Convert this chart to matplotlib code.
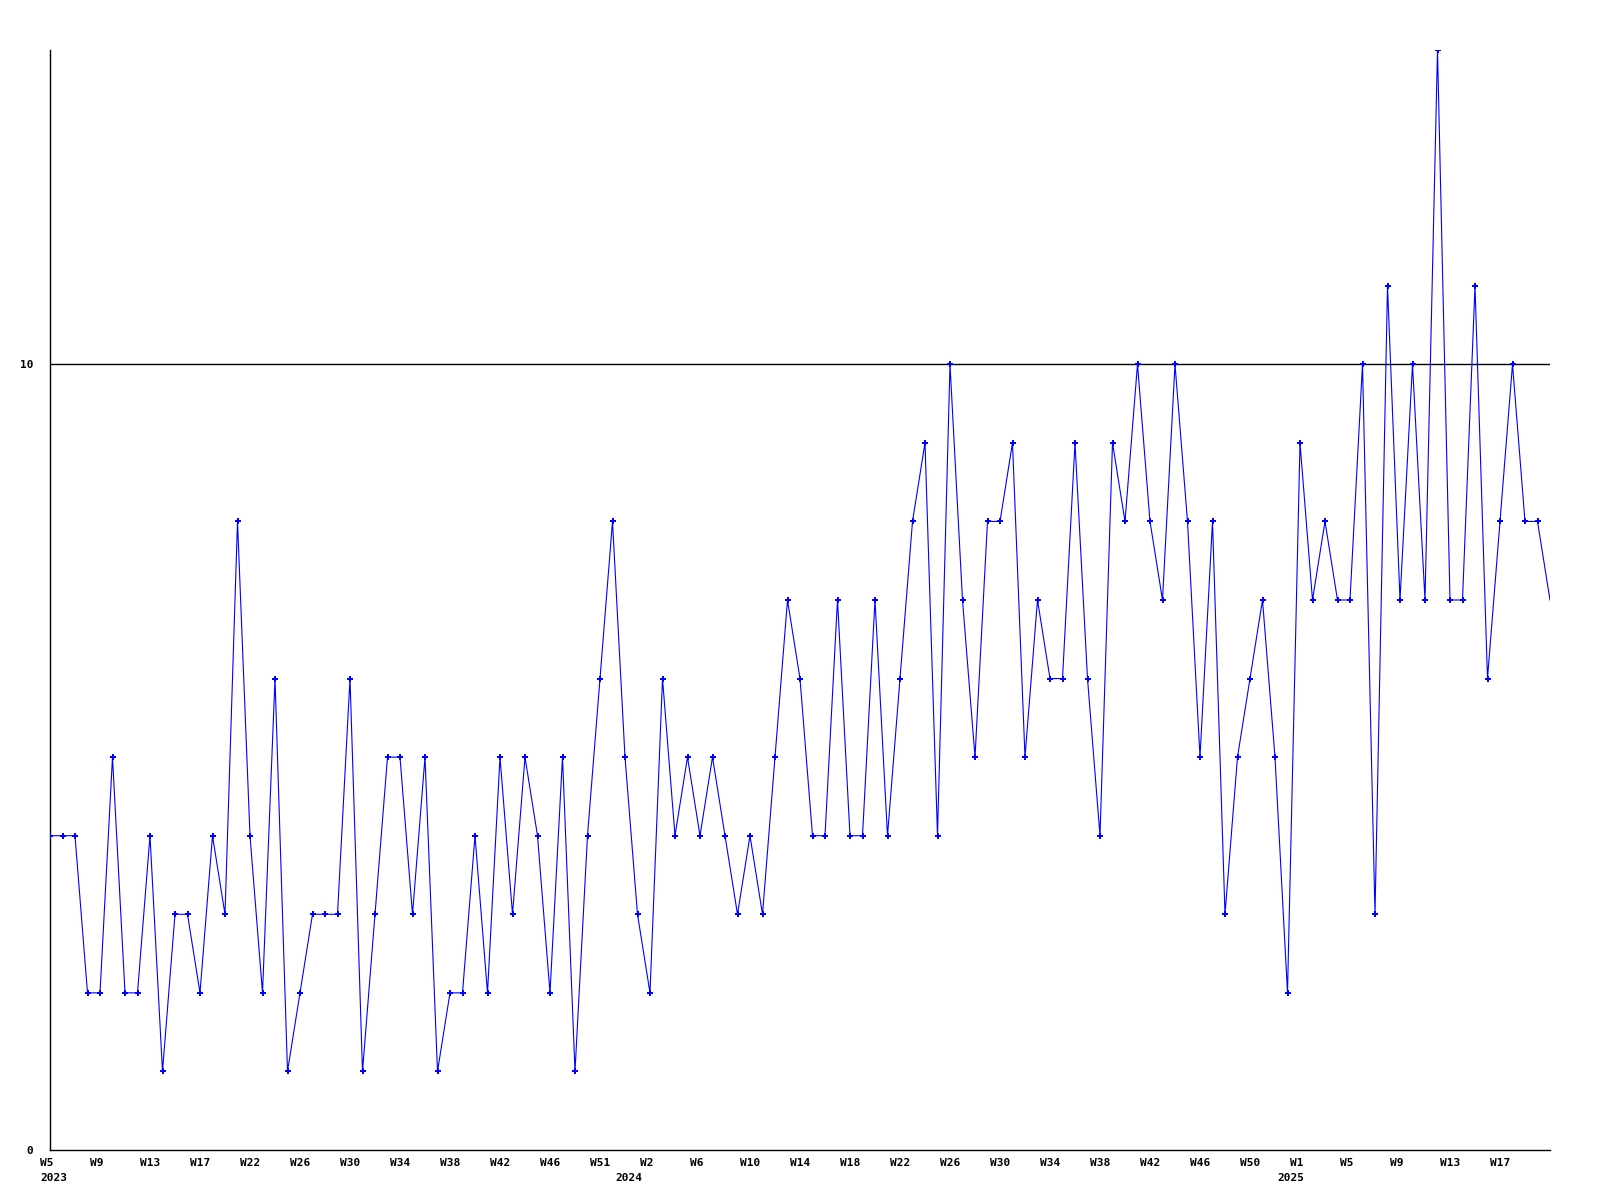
import matplotlib
matplotlib.use("Agg")
import matplotlib.pyplot as plt
import matplotlib.transforms as mtransforms

# ---- data ----
values = [4, 4, 4, 2, 2, 5, 2, 2, 4, 1,
          3, 3, 2, 4, 3, 8, 4, 2, 6, 1,
          2, 3, 3, 3, 6, 1, 3, 5, 5, 3,
          5, 1, 2, 2, 4, 2, 5, 3, 5, 4,
          2, 5, 1, 4, 6, 8, 5, 3, 2, 6,
          4, 5, 4, 5, 4, 3, 4, 3, 5, 7,
          6, 4, 4, 7, 4, 4, 7, 4, 6, 8,
          9, 4, 10, 7, 5, 8, 8, 9, 5, 7,
          6, 6, 9, 6, 4, 9, 8, 10, 8, 7,
          10, 8, 5, 8, 3, 5, 6, 7, 5, 2,
          9, 7, 8, 7, 7, 10, 3, 11, 7, 10,
          7, 14, 7, 7, 11, 6, 8, 10, 8, 8,
          7]

tick_labels = ["W5", "W9", "W13", "W17", "W22", "W26", "W30", "W34", "W38",
               "W42", "W46", "W51", "W2", "W6", "W10", "W14", "W18", "W22",
               "W26", "W30", "W34", "W38", "W42", "W46", "W50", "W1", "W5",
               "W9", "W13", "W17"]
tick_every = 4

year_labels = ["2023", "2024", "2025"]
year_positions = [0, 46, 99]

y_ticks = [0, 10]
y_max = 14

# ---- figure ----
fig = plt.figure(figsize=(16, 12), dpi=100)
ax = fig.add_axes([50 / 1600, 50 / 1200, 1500 / 1600, 1100 / 1200])

x = list(range(len(values)))
ax.plot(x, values, color="#0000ff", linewidth=0.8,
        marker="P", markersize=4, markeredgewidth=0,
        markevery=slice(0, len(values) - 1), zorder=3)

ax.set_xlim(0, len(values) - 1)
ax.set_ylim(0, y_max)

for side in ("top", "right"):
    ax.spines[side].set_visible(False)
for side in ("left", "bottom"):
    ax.spines[side].set_linewidth(1.0)
    ax.spines[side].set_color("black")

ax.axhline(10, color="black", linewidth=1.0, zorder=1)

font = dict(family="DejaVu Sans Mono", weight="bold", size=8)

ax.set_yticks(y_ticks)
ax.set_yticklabels([str(v) for v in y_ticks], **font)
ax.tick_params(axis="y", length=0, pad=12)

tick_pos = [i * tick_every for i in range(len(tick_labels))]
ax.set_xticks(tick_pos)
ax.set_xticklabels(tick_labels, **font)
ax.tick_params(axis="x", length=0, pad=6)
offset = mtransforms.ScaledTranslation(-10 / 100, 0, fig.dpi_scale_trans)
for lab in ax.get_xticklabels():
    lab.set_horizontalalignment("left")
    lab.set_transform(lab.get_transform() + offset)

trans = mtransforms.blended_transform_factory(ax.transData, ax.transAxes)
year_off = mtransforms.ScaledTranslation(-10 / 100, -23 / 100, fig.dpi_scale_trans)
for yl, yp in zip(year_labels, year_positions):
    ax.text(yp, 0, yl, transform=trans + year_off, ha="left", va="top", **font)

fig.savefig("out.png", dpi=100, facecolor="white")
